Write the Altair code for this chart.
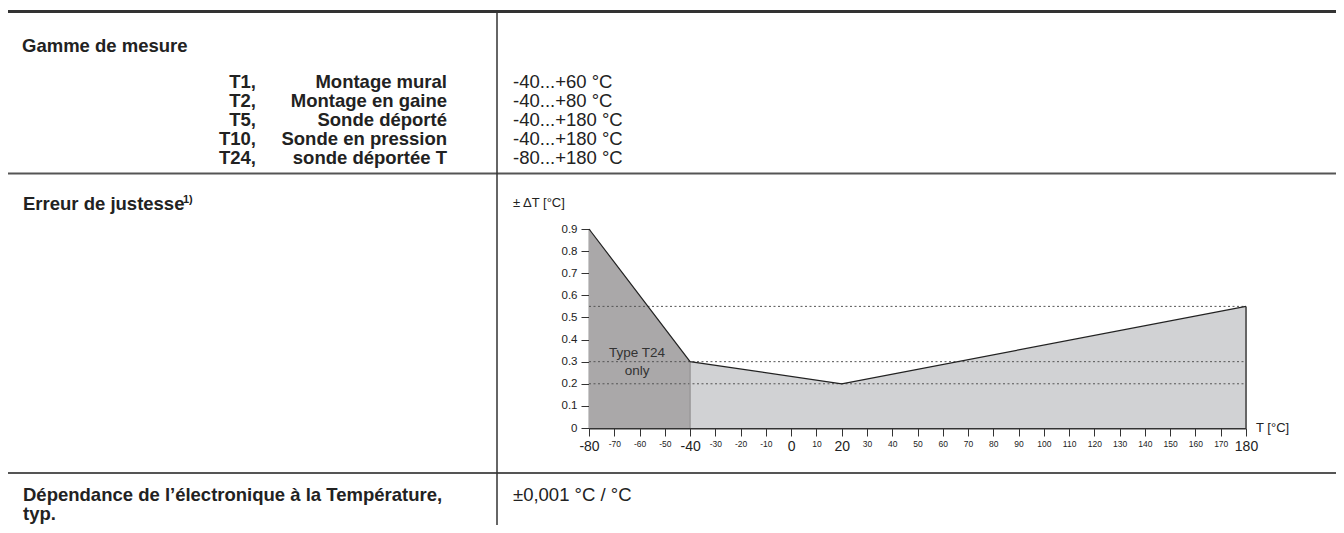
import altair as alt
import pandas as pd

# ---- data ----
temps = [-80, -40, 20, 180]
errors = [0.9, 0.3, 0.2, 0.55]
ref_levels = [0.55, 0.3, 0.2]
x_ticks = [-80, -70, -60, -50, -40, -30, -20, -10, 0, 10, 20, 30, 40, 50, 60,
           70, 80, 90, 100, 110, 120, 130, 140, 150, 160, 170, 180]
x_big = [-80, -40, 0, 20, 180]
y_ticks = [0, 0.1, 0.2, 0.3, 0.4, 0.5, 0.6, 0.7, 0.8, 0.9]

range_types = ["T1,", "T2,", "T5,", "T10,", "T24,"]
range_names = ["Montage mural", "Montage en gaine", "Sonde déporté",
               "Sonde en pression", "sonde déportée T"]
range_values = ["-40...+60 °C", "-40...+80 °C", "-40...+180 °C",
                "-40...+180 °C", "-80...+180 °C"]

FONT = "Liberation Sans"
TXT = "#222222"
FS = 18.5

# plot origin on page
OX, OY = 589, 229
W, H = 657, 199


def px(x):
    return x - OX


def py(y):
    return y - OY


dark = pd.DataFrame({"T": temps[:2], "err": errors[:2]})
light = pd.DataFrame({"T": temps[1:], "err": errors[1:]})
curve = pd.DataFrame({"T": temps, "err": errors})
levels = pd.DataFrame({"lvl": ref_levels, "x0": [temps[0]] * 3, "x1": [temps[-1]] * 3})
one = pd.DataFrame({"k": [0]})

xs = alt.Scale(domain=[-80, 180], nice=False, zero=False)
ys = alt.Scale(domain=[0, 0.9], nice=False)

big_test = "indexof([" + ",".join(str(v) for v in x_big) + "], datum.value) >= 0"

x_axis = alt.Axis(values=x_ticks, title=None, grid=False, domainColor="#333333",
                  domainWidth=2, tickColor="#333333", tickSize=8, tickWidth=1,
                  labelFont=FONT, labelColor=TXT, labelPadding=3,
                  labelFontSize={"condition": {"test": big_test, "value": 14}, "value": 8.5},
                  labelExpr="datum.value < 0 ? '-' + abs(datum.value) : '' + datum.value",
                  labelFlush=False, labelOverlap=False)
y_axis = alt.Axis(values=y_ticks, title=None, grid=False, domainColor="#333333",
                  domainWidth=1.5, tickColor="#333333", tickSize=8, tickWidth=1,
                  labelFont=FONT, labelColor=TXT, labelFontSize=11.5, labelPadding=4,
                  labelOverlap=False,
                  labelExpr="datum.value == 0 ? '0' : format(datum.value, '.1f')")


def X(f):
    return alt.X(f, type="quantitative", scale=xs, axis=x_axis)


def Y(f):
    return alt.Y(f, type="quantitative", scale=ys, axis=y_axis)


dark_area = alt.Chart(dark).mark_area(color="#aaa8a9", opacity=1).encode(x=X("T"), y=Y("err"))
light_area = alt.Chart(light).mark_area(color="#d1d2d4", opacity=1).encode(x=X("T"), y=Y("err"))
div40 = alt.Chart(dark.tail(1)).mark_rule(color="#9a9899", strokeWidth=1.5).encode(
    x=X("T"), y=Y("err"), y2=alt.datum(0))
div180 = alt.Chart(light.tail(1)).mark_rule(color="#666666", strokeWidth=2).encode(
    x=X("T"), y=Y("err"), y2=alt.datum(0))
dots = alt.Chart(levels).mark_rule(color="#555555", strokeWidth=1, strokeDash=[2, 2.5]).encode(
    x=X("x0"), x2="x1:Q", y=Y("lvl"))
line = alt.Chart(curve).mark_line(color="#222222", strokeWidth=1.2).encode(x=X("T"), y=Y("err"))

layers = [dark_area, light_area, dots, div40, div180, line]


def txt(s, x, y, size=FS, weight="normal", align="left", color=TXT, font=FONT):
    return alt.Chart(one).mark_text(text=s, align=align, baseline="alphabetic",
                                    fontSize=size, fontWeight=weight, font=font,
                                    color=color).encode(x=alt.value(px(x)), y=alt.value(py(y)))


def hline(y, x0, x1, width, color):
    return alt.Chart(one).mark_rule(color=color, strokeWidth=width).encode(
        x=alt.value(px(x0)), x2=alt.value(px(x1)), y=alt.value(py(y)))


# chart annotations
layers.append(txt("Type T24", 637, 357, size=13.5, align="center", color="#333333"))
layers.append(txt("only", 637, 375, size=13.5, align="center", color="#333333"))
layers.append(txt("± ΔT [°C]", 513, 207, size=13))
layers.append(txt("T [°C]", 1256, 432, size=13))

# table lines
layers.append(hline(11.5, 8, 1344, 3, "#333333"))
layers.append(hline(173.5, 8, 1344, 2, "#555555"))
layers.append(hline(473, 8, 1344, 2, "#555555"))
layers.append(alt.Chart(one).mark_rule(color="#333333", strokeWidth=1.5).encode(
    x=alt.value(px(497)), y=alt.value(py(13)), y2=alt.value(py(540))))

# table text
layers.append(txt("Gamme de mesure", 22, 51.5, weight="bold"))
for i, (a, b, c) in enumerate(zip(range_types, range_names, range_values)):
    yb = 88 + 19 * i
    layers.append(txt(a, 256, yb, weight="bold", align="right"))
    layers.append(txt(b, 447, yb, weight="bold", align="right"))
    layers.append(txt(c, 513, yb))
layers.append(txt("Erreur de justesse", 23, 210, weight="bold"))
layers.append(txt("1)", 183, 203, size=11, weight="bold"))
layers.append(txt("Dépendance de l’électronique à la Température,", 23, 501, weight="bold"))
layers.append(txt("typ.", 23, 520, weight="bold"))
layers.append(txt("±0,001 °C / °C", 513, 501))

chart = alt.layer(*layers).properties(
    width=W, height=H,
    autosize=alt.AutoSizeParams(type="none"),
    padding={"left": OX - 8, "top": OY - 8, "right": 1328 - (OX - 8) - W,
             "bottom": 517 - (OY - 8) - H},
    background="white",
).configure_view(stroke=None)

chart.save("out.html", embed_options={"renderer": "svg", "actions": False})
